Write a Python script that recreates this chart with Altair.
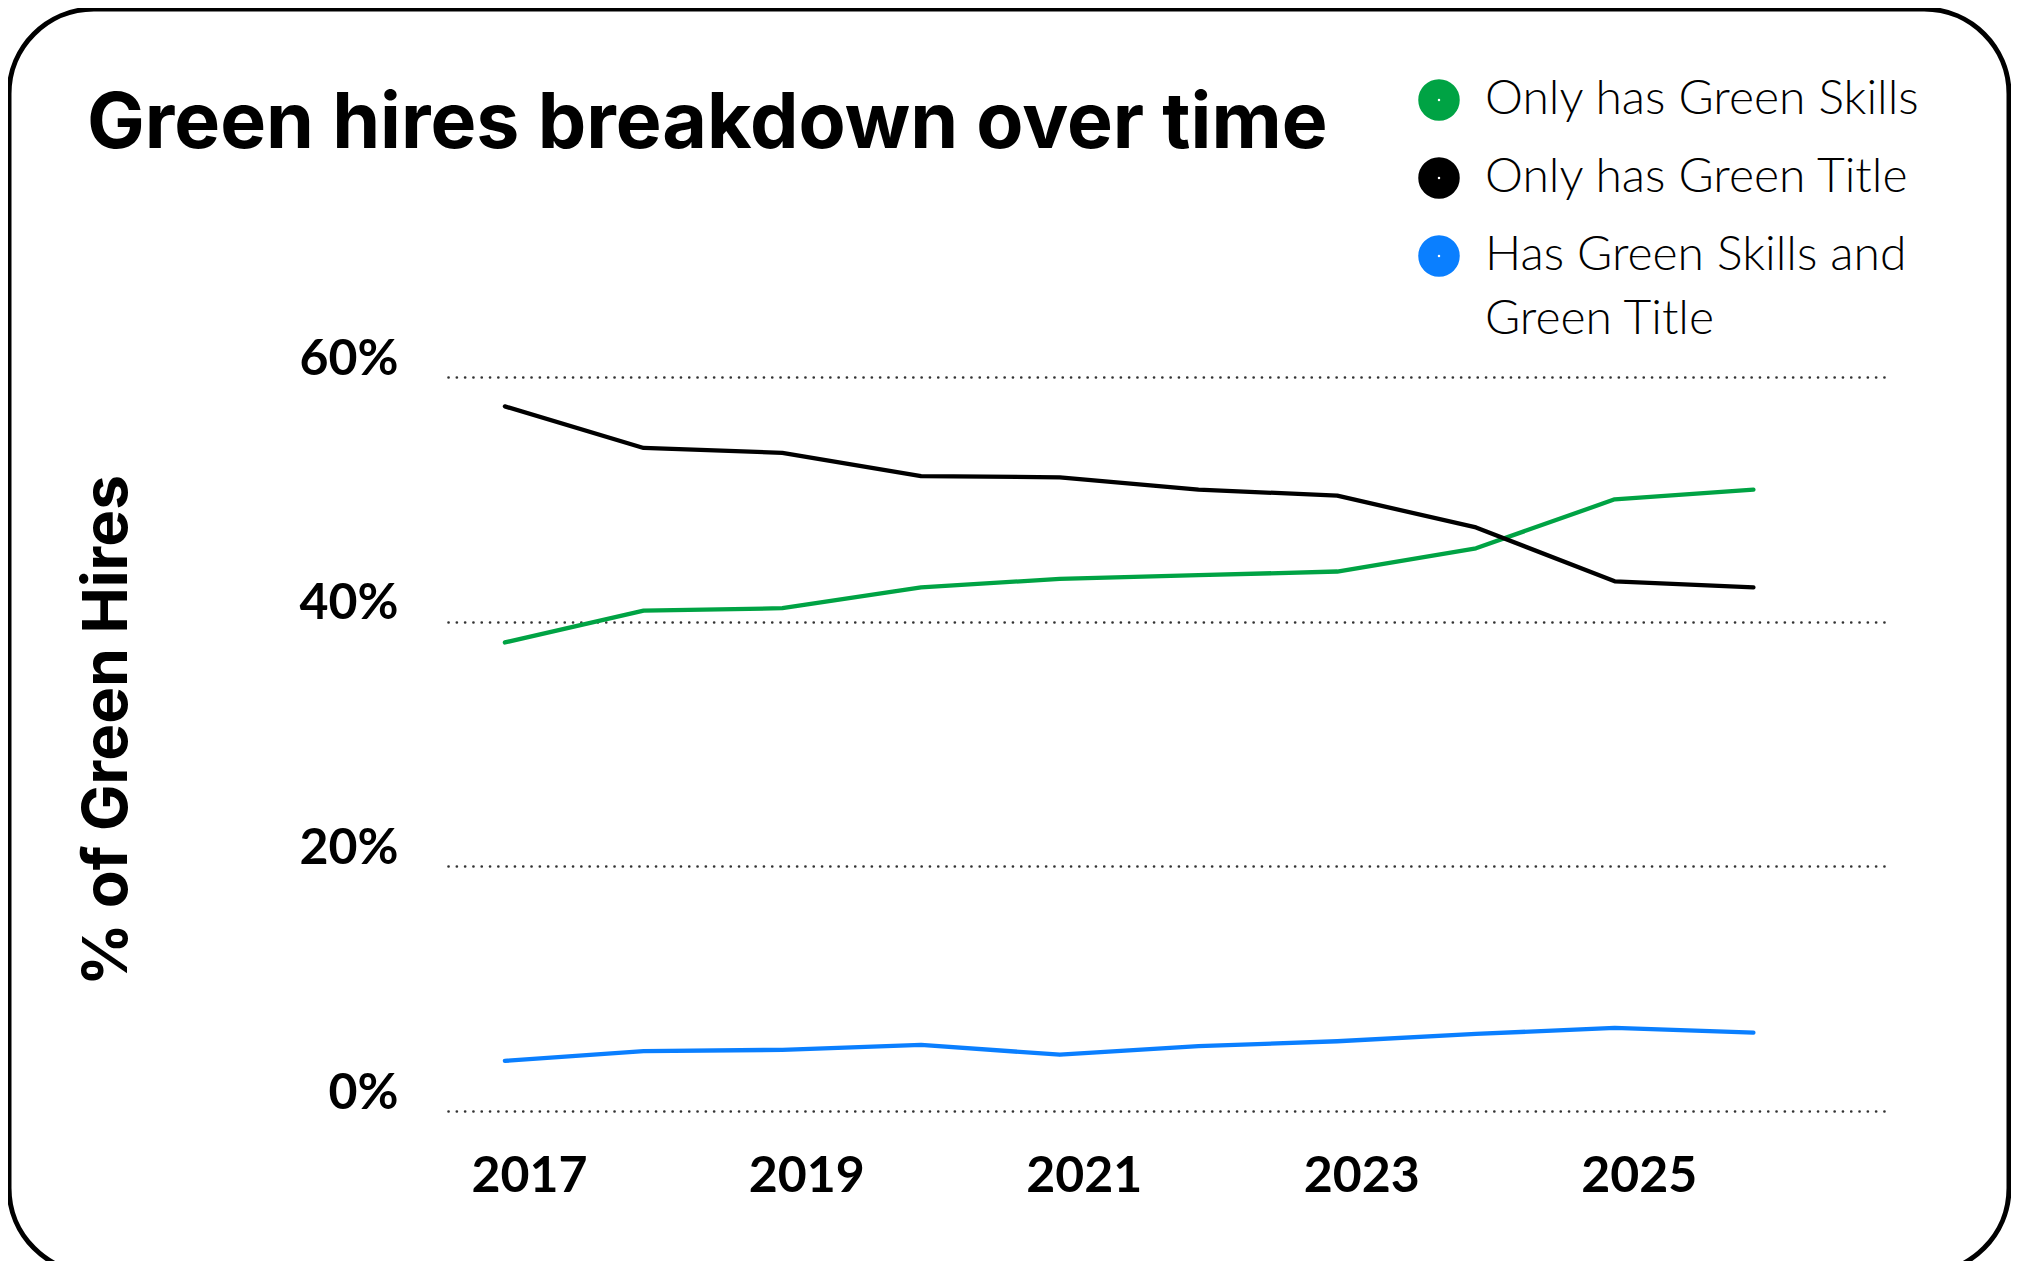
import altair as alt
import pandas as pd

years = [2017, 2018, 2019, 2020, 2021, 2022, 2023, 2024, 2025, 2026]
only_skills = [38.3, 40.9, 41.1, 42.8, 43.5, 43.8, 44.1, 46.0, 50.0, 50.8]
only_title = [57.6, 54.2, 53.8, 51.9, 51.8, 50.8, 50.3, 47.7, 43.3, 42.8]
skills_and_title = [4.1, 4.9, 5.0, 5.4, 4.6, 5.3, 5.7, 6.3, 6.8, 6.4]

series_names = ["Only has Green Skills", "Only has Green Title", "Has Green Skills and Green Title"]
series_colors = ["#00A344", "#000000", "#0A7FFF"]
y_ticks = [0, 20, 40, 60]
x_ticks = [2017, 2019, 2021, 2023, 2025]
title_text = "Green hires breakdown over time"
y_title = "% of Green Hires"

rows = []
for name, vals in zip(series_names, [only_skills, only_title, skills_and_title]):
    for yr, v in zip(years, vals):
        rows.append({"year": yr, "value": v, "series": name})
df = pd.DataFrame(rows)

FONT = "Lato"
HEAD = "Inter"

lines = alt.Chart(df).mark_line(strokeWidth=4.3, strokeJoin="round", strokeCap="round").encode(
    x=alt.X(
        "year:Q",
        scale=alt.Scale(domain=[2016.59, 2026.97], nice=False, zero=False),
        axis=alt.Axis(
            values=x_ticks, format="d", grid=False, domain=False, ticks=False,
            labelFont=FONT, labelFontSize=50, labelFontWeight="bold", labelColor="black",
            labelPadding=40, labelBaseline="top", labelOffset=24, title=None,
        ),
    ),
    y=alt.Y(
        "value:Q",
        scale=alt.Scale(domain=[0, 60], nice=False),
        axis=alt.Axis(
            values=y_ticks, labelExpr="datum.value + '%'",
            grid=True, gridDash=[0.1, 8.2], gridCap="round", gridWidth=2.6, gridColor="#333333",
            domain=False, ticks=False,
            labelFont=FONT, labelFontSize=50, labelFontWeight="bold", labelColor="black",
            labelPadding=50, labelOffset=-18,
            title=y_title, titleFont=HEAD, titleFontSize=62, titleFontWeight="bold", titleColor="black",
            titleX=-341, titleY=353, titleAngle=270, titleBaseline="middle", titleAlign="center",
        ),
    ),
    color=alt.Color(
        "series:N",
        scale=alt.Scale(domain=series_names, range=series_colors),
        legend=alt.Legend(
            orient="none", legendX=967, legendY=-301, title=None,
            symbolType="circle", symbolSize=380, symbolStrokeWidth=22,
            labelFont=FONT, labelFontSize=48, labelFontWeight=300, labelColor="black", labelLimit=800,
            labelOffset=22, rowPadding=-30,
            labelExpr="datum.label == 'Has Green Skills and Green Title' ? ['Has Green Skills and', 'Green Title'] : datum.label",
        ),
    ),
)

title_layer = alt.Chart(pd.DataFrame({"t": [title_text]})).mark_text(
    align="left", baseline="alphabetic", fontSize=77, font=HEAD, fontWeight="bold", color="black"
).encode(text="t:N", x=alt.value(-361), y=alt.value(-229))

frame = alt.Chart(pd.DataFrame({"f": [0]})).mark_rect(
    fill="transparent", stroke="black", strokeWidth=5, cornerRadius=85
).encode(x=alt.value(-439), x2=alt.value(1561), y=alt.value(-368), y2=alt.value(896))

chart = alt.layer(frame, lines, title_layer).properties(
    width=1440, height=734,
    padding={"left": 440, "top": 369, "right": 123, "bottom": 150},
    autosize=alt.AutoSizeParams(type="none"),
    background="white",
).configure(style={"guide-label": {"lineHeight": 64}}).configure_view(stroke=None)

chart.save("out.html", embed_options={"renderer": "svg", "actions": False})
